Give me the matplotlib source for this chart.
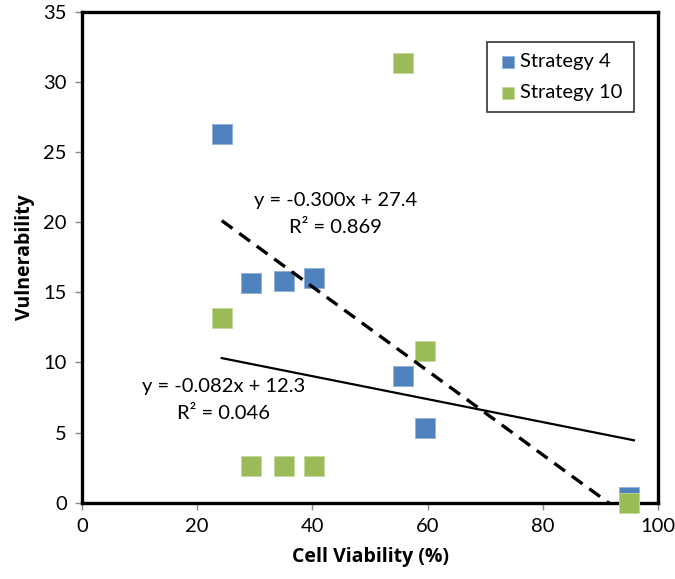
import matplotlib.pyplot as plt
import numpy as np

plt.rcParams['font.family'] = ['Lato', 'DejaVu Sans']

# Strategy 4 (blue)
s4_viability = [24.25, 29.3, 35.1, 40.3, 55.7, 59.5, 95.0]
s4_vulnerability = [26.3, 15.7, 15.8, 16.0, 9.0, 5.3, 0.4]
# Strategy 10 (green)
s10_viability = [24.25, 29.3, 35.1, 40.3, 55.7, 59.5, 95.0]
s10_vulnerability = [13.2, 2.6, 2.6, 2.6, 31.4, 10.8, 0.0]

# trend lines (slope, intercept)
s4_fit = (-0.300, 27.4)
s4_fit_label = "y = -0.300x + 27.4\nR² = 0.869"
s10_fit = (-0.082, 12.3)
s10_fit_label = "y = -0.082x + 12.3\nR² = 0.046"

blue = '#4F81BD'
green = '#9BBB59'

fig = plt.figure(figsize=(6.75, 5.79), dpi=100)
ax = fig.add_axes([0.1215, 0.132, 0.8535, 0.847])

ax.scatter(s4_viability, s4_vulnerability, marker='s', s=190, color=blue,
           edgecolors='#8FB0DA', linewidths=0.6, label='Strategy 4',
           zorder=3, clip_on=False)
ax.scatter(s10_viability, s10_vulnerability, marker='s', s=190, color=green,
           edgecolors='#C3D89D', linewidths=0.6, label='Strategy 10',
           zorder=3, clip_on=False)

xs = np.array([min(s4_viability), max(s4_viability)])
ax.plot(xs, s4_fit[0] * xs + s4_fit[1], color='black', lw=2.4,
        linestyle=(0, (4, 2.5)), zorder=4)
xs = np.array([min(s10_viability), max(s10_viability) + 0.8])
ax.plot(xs, s10_fit[0] * xs + s10_fit[1], color='black', lw=1.6, zorder=4)

ax.text(44, 20.6, s4_fit_label, ha='center', va='center',
        multialignment='center', fontsize=14.5, linespacing=1.7)
ax.text(24.6, 7.3, s10_fit_label, ha='center', va='center',
        multialignment='center', fontsize=14.5, linespacing=1.7)

ax.set_xlim(0, 100)
ax.set_ylim(0, 35)
ax.set_xticks(np.arange(0, 101, 20))
ax.set_yticks(np.arange(0, 36, 5))
ax.tick_params(direction='out', length=5, width=1, labelsize=14.5, pad=6,
               color='#888888')
for s in ax.spines.values():
    s.set_linewidth(2.4)
    s.set_color('black')

ax.set_xlabel('Cell Viability (%)', fontsize=14, fontweight='bold',
              family=['Open Sans', 'DejaVu Sans'], labelpad=9)
ax.set_ylabel('Vulnerability', fontsize=14, fontweight='bold',
              family=['Open Sans', 'DejaVu Sans'], labelpad=6)

leg = ax.legend(loc='upper right', bbox_to_anchor=(0.975, 0.96), fontsize=14.5,
                frameon=True, fancybox=False, edgecolor='black',
                handletextpad=0.1, handlelength=1.0, markerscale=0.6,
                borderpad=0.55, labelspacing=0.7, scatterpoints=1)
leg.get_frame().set_linewidth(1.2)

fig.savefig('out.png', dpi=100)
